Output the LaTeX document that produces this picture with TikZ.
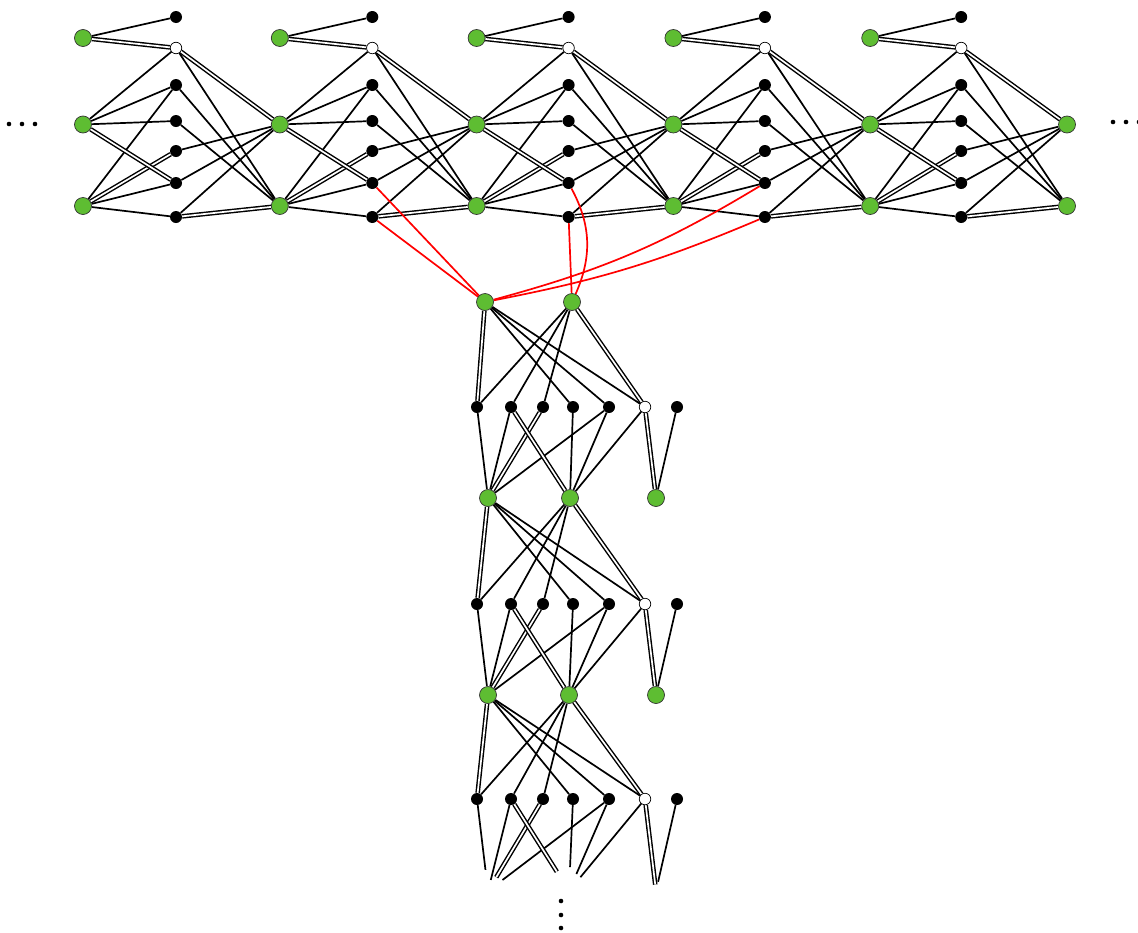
\documentclass[tikz,border=0pt]{standalone}
\usetikzlibrary{calc}
\definecolor{gfill}{RGB}{94,189,50}
\pgfdeclarelayer{bg}
\pgfsetlayers{bg,main}
\begin{document}
\begin{tikzpicture}[x=1pt,y=-1pt,
 gn/.style={circle,draw=black!80,line width=0.7pt,fill=gfill,minimum size=17pt,inner sep=0pt},
 bn/.style={circle,fill=black,minimum size=12pt,inner sep=0pt},
 wn/.style={circle,draw=black,fill=white,line width=0.7pt,minimum size=11.5pt,inner sep=0pt},
 ed/.style={line width=1.7pt},
 dd/.style={double=white,double distance=1.7pt,line width=1.45pt},
 rd/.style={red,line width=1.7pt},
 dotm/.style={fill=black}]
\useasboundingbox (0,0) rectangle (1138,932);

% ---------- top row nodes ----------
\foreach \i in {0,...,5} {
  \pgfmathsetmacro\gx{83+196.8*\i}
  \node[gn] (G1-\i) at (\gx,124.5) {};
  \node[gn] (G2-\i) at (\gx,206) {};
}
\foreach \i in {0,...,4} {
  \pgfmathsetmacro\bx{176+196.3*\i}
  \pgfmathsetmacro\gx{83+196.8*\i}
  \node[gn] (G0-\i) at (\gx,38) {};
  \node[bn] (b0-\i) at (\bx,17) {};
  \node[wn] (w-\i) at (\bx,48) {};
  \node[bn] (b1-\i) at (\bx,85) {};
  \node[bn] (b2-\i) at (\bx,121) {};
  \node[bn] (b3-\i) at (\bx,151) {};
  \node[bn] (b4-\i) at (\bx,183) {};
  \node[bn] (b5-\i) at (\bx,217) {};
}

% ---------- vertical chain nodes ----------
\node[gn] (VA-0) at (485,302) {};
\node[gn] (VB-0) at (572,302) {};
\node[gn] (VA-1) at (488,498) {};
\node[gn] (VB-1) at (570,498) {};
\node[gn] (VE-1) at (656,498) {};
\node[gn] (VA-2) at (488,695) {};
\node[gn] (VB-2) at (569,695) {};
\node[gn] (VE-2) at (656,695) {};
\coordinate (VA-3) at (488,891);
\coordinate (VB-3) at (569,891);
\coordinate (VE-3) at (656,891);
\foreach \k/\y in {0/407,1/604,2/799} {
  \node[bn] (c0-\k) at (477,\y) {};
  \node[bn] (c1-\k) at (511,\y) {};
  \node[bn] (c2-\k) at (543,\y) {};
  \node[bn] (c3-\k) at (573,\y) {};
  \node[bn] (c4-\k) at (609,\y) {};
  \node[wn] (cw-\k) at (645,\y) {};
  \node[bn] (c6-\k) at (677,\y) {};
}

\begin{pgfonlayer}{bg}
% ---------- top row edges ----------
\foreach \i [evaluate=\i as \j using int(\i+1)] in {0,...,4} {
  \draw[ed] (G0-\i) -- (b0-\i);
  \draw[dd] (G0-\i) -- (w-\i);
  \draw[ed] (w-\i) -- (G1-\i);
  \draw[dd] (w-\i) -- (G1-\j);
  \draw[ed] (w-\i) -- (G2-\j);
  \draw[ed] (b1-\i) -- (G1-\i);
  \draw[ed] (b1-\i) -- (G2-\i);
  \draw[ed] (b1-\i) -- (G2-\j);
  \draw[ed] (b2-\i) -- (G1-\i);
  \draw[ed] (b2-\i) -- (G2-\j);
  \draw[dd] (b3-\i) -- (G2-\i);
  \draw[ed] (b3-\i) -- (G1-\j);
  \draw[dd] (b4-\i) -- (G1-\i);
  \draw[ed] (b4-\i) -- (G2-\i);
  \draw[ed] (b4-\i) -- (G1-\j);
  \draw[ed] (b5-\i) -- (G2-\i);
  \draw[dd] (b5-\i) -- (G2-\j);
  \draw[ed] (b5-\i) -- (G1-\j);
}
% ---------- vertical chain edges ----------
\foreach \k in {0,1,2} {
  \draw[dd] (VA-\k) -- (c0-\k);
  \draw[ed] (VA-\k) -- (c3-\k);
  \draw[ed] (VA-\k) -- (c4-\k);
  \draw[ed] (VA-\k) -- (cw-\k);
  \draw[ed] (VB-\k) -- (c0-\k);
  \draw[ed] (VB-\k) -- (c1-\k);
  \draw[ed] (VB-\k) -- (c2-\k);
  \draw[dd] (VB-\k) -- (cw-\k);
}
\foreach \k [evaluate=\k as \j using int(\k+1)] in {0,1} {
  \draw[ed] (c0-\k) -- (VA-\j);
  \draw[ed] (c1-\k) -- (VA-\j);
  \draw[dd] (c2-\k) -- (VA-\j);
  \draw[ed] (c4-\k) -- (VA-\j);
  \draw[dd] (c1-\k) -- (VB-\j);
  \draw[ed] (c3-\k) -- (VB-\j);
  \draw[ed] (c4-\k) -- (VB-\j);
  \draw[ed] (cw-\k) -- (VB-\j);
  \draw[dd] (cw-\k) -- (VE-\j);
  \draw[ed] (c6-\k) -- (VE-\j);
}
% dangling edges at the bottom
\draw[ed] (c0-2) -- ($(c0-2)!0.77!(VA-3)$);
\draw[ed] (c1-2) -- ($(c1-2)!0.88!(VA-3)$);
\draw[dd] (c2-2) -- ($(c2-2)!0.85!(VA-3)$);
\draw[ed] (c4-2) -- ($(c4-2)!0.88!(VA-3)$);
\draw[dd] (c1-2) -- ($(c1-2)!0.79!(VB-3)$);
\draw[ed] (c3-2) -- ($(c3-2)!0.74!(VB-3)$);
\draw[ed] (c4-2) -- ($(c4-2)!0.815!(VB-3)$);
\draw[ed] (cw-2) -- ($(cw-2)!0.85!(VB-3)$);
\draw[dd] (cw-2) -- ($(cw-2)!0.93!(VE-3)$);
\draw[ed] (c6-2) -- ($(c6-2)!0.9!(VE-3)$);
% ---------- red connections ----------
\draw[rd] (b4-1) -- (VA-0);
\draw[rd] (b5-1) -- (VA-0);
\draw[rd] (b5-2) -- (VB-0);
\draw[rd] (VB-0) to[bend right=26] (b4-2);
\draw[rd] (VA-0) to[bend right=8] (b4-3);
\draw[rd] (VA-0) to[bend right=6] (b5-3);
\end{pgfonlayer}

% ---------- ellipsis dots ----------
\foreach \x in {9,22,35} \fill[dotm] (\x,124) circle (2.3pt);
\foreach \x in {1113,1126,1139} \fill[dotm] (\x,122) circle (2.3pt);
\foreach \y in {901,915,928} \fill[dotm] (561,\y) circle (2.3pt);
\end{tikzpicture}
\end{document}
